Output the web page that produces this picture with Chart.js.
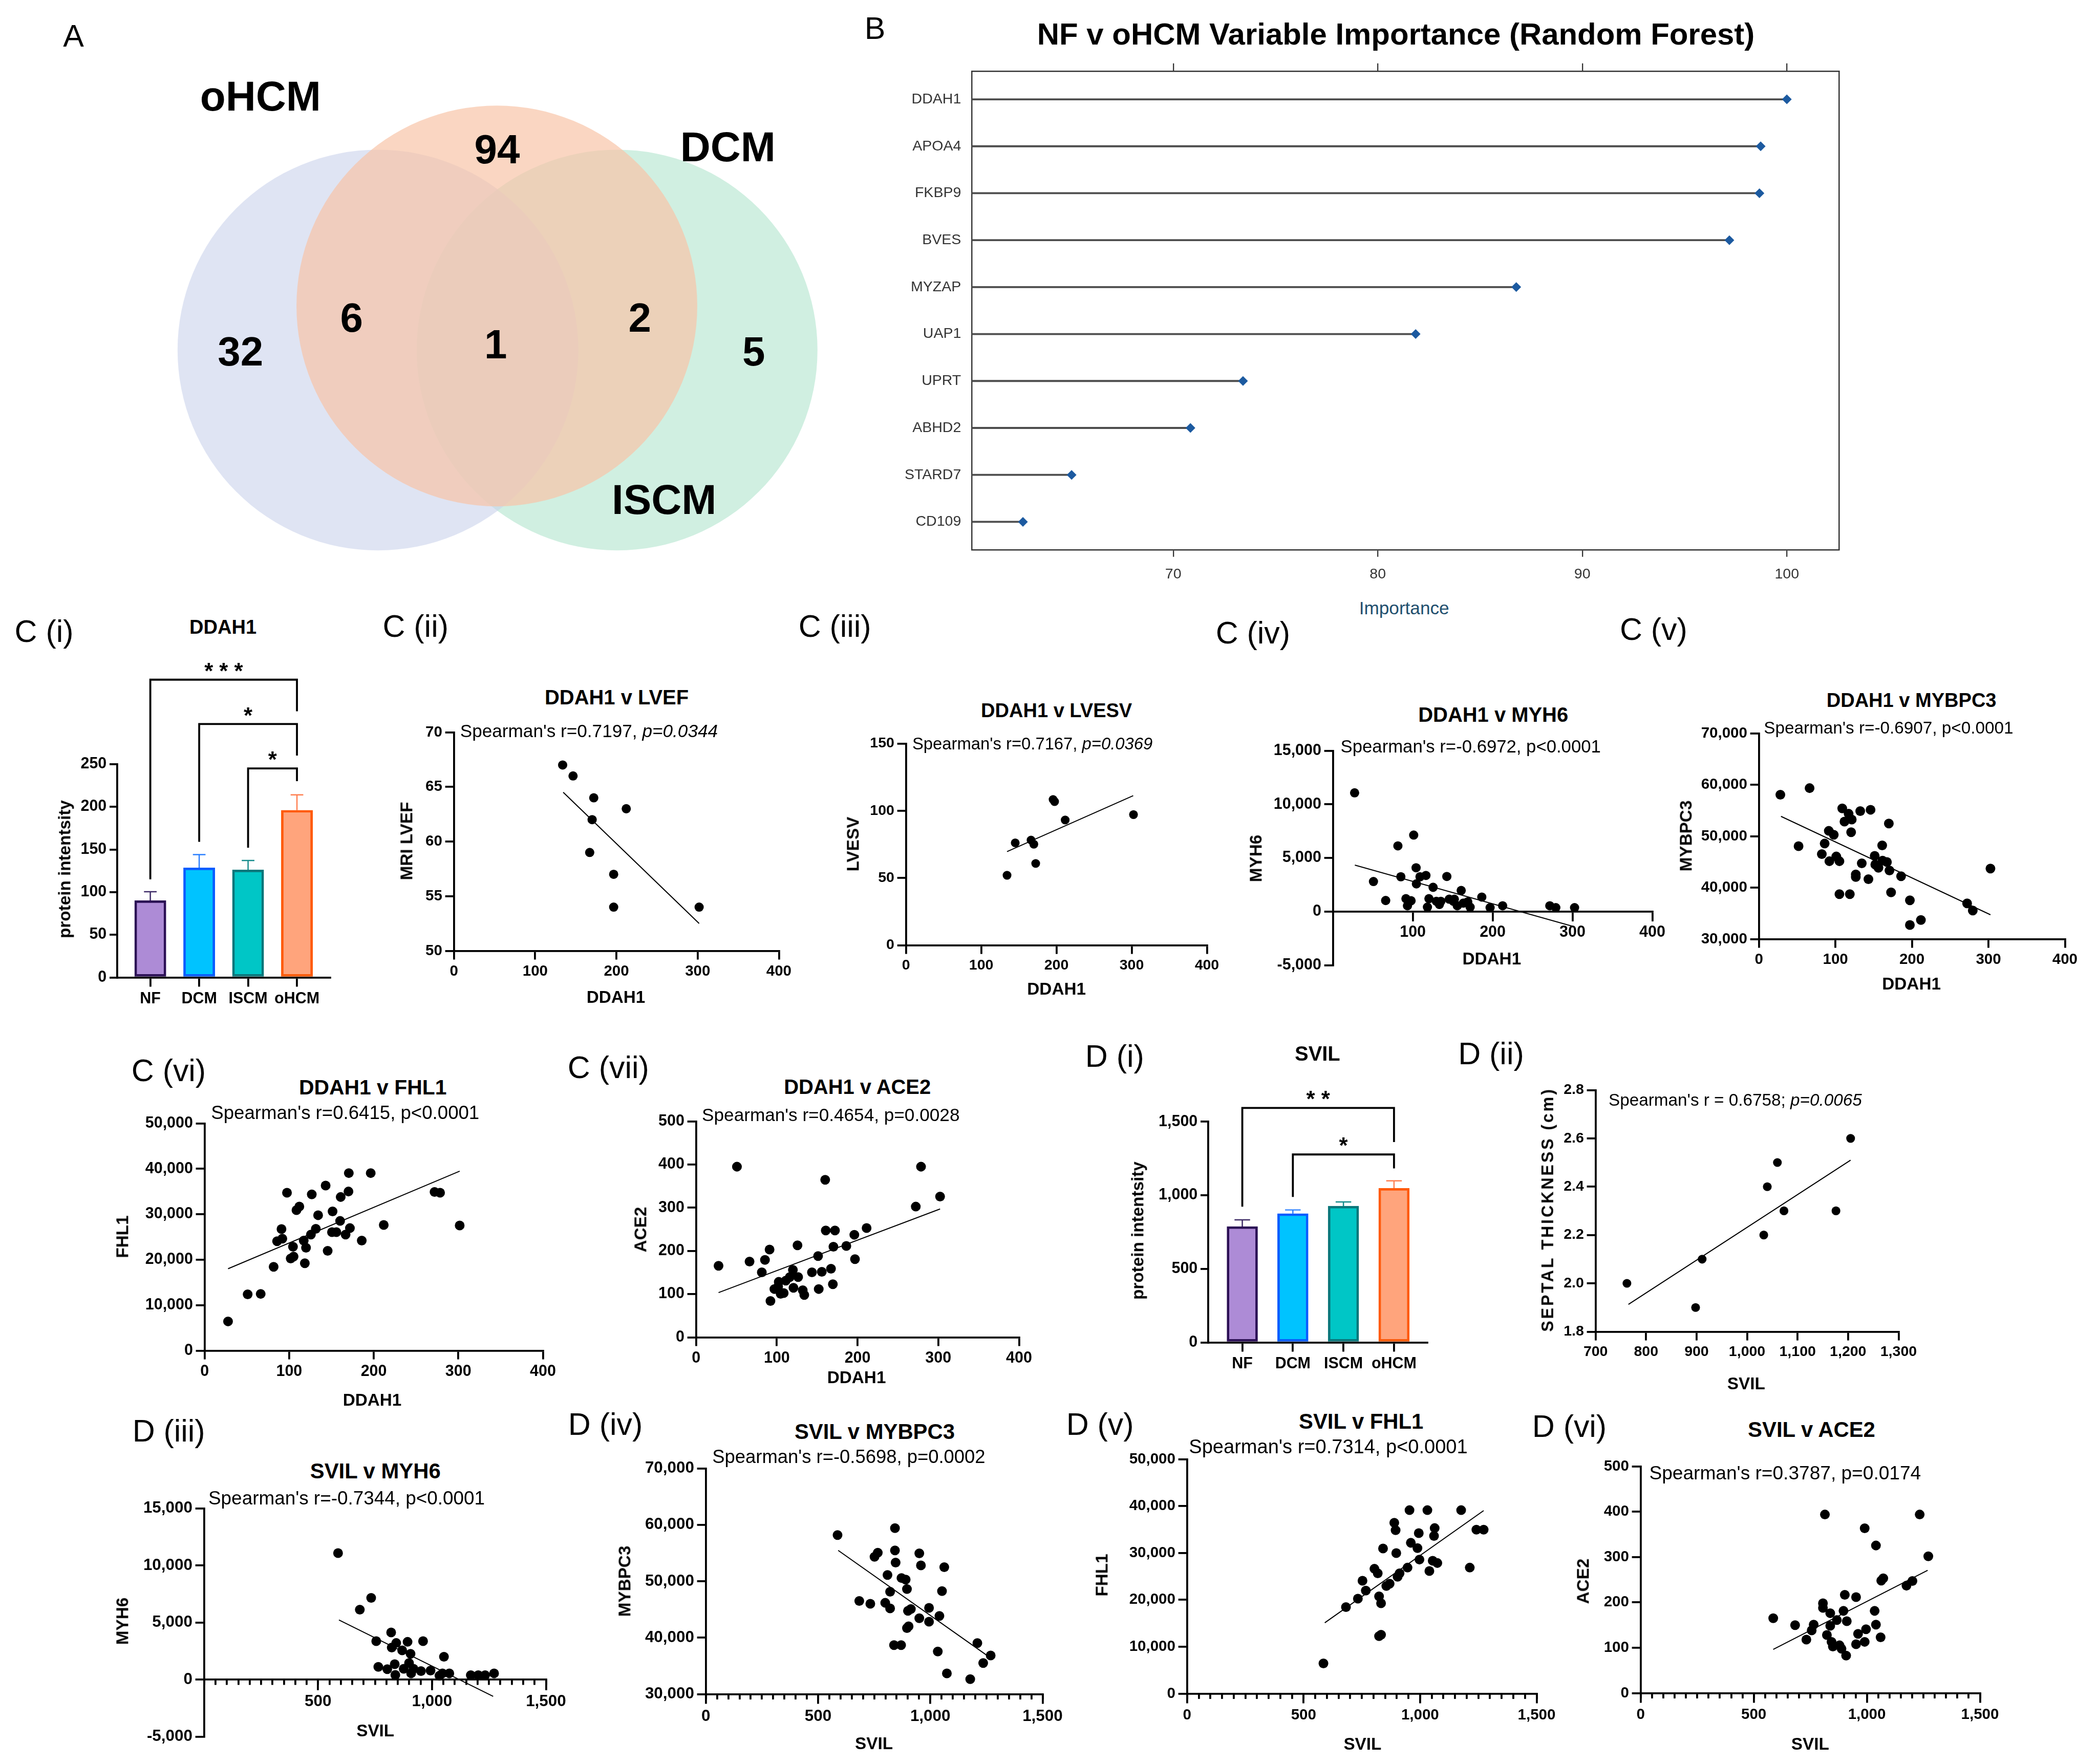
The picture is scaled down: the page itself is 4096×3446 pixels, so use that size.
<!DOCTYPE html>
<html>
<head>
<meta charset="utf-8">
<title>DDAH1 / SVIL proteomics figure</title>
<script src="https://cdn.jsdelivr.net/npm/chart.js@4"></script>
<style>
  html, body { margin: 0; padding: 0; background: #fff; }
  body { width: 4096px; height: 3446px; position: relative; overflow: hidden;
         font-family: 'Liberation Sans', Arial, Helvetica, sans-serif; }
  canvas { position: absolute; }
  .t { position: absolute; white-space: nowrap; line-height: 1; color: #000; }
</style>
</head>
<body>
<script>
// ---------- data ----------
// A: Venn counts (regions: top-only, left-only, left∩top, centre, top∩right, right-only)
const vennCounts = [94, 32, 6, 1, 2, 5];
const vennSetNames = ['oHCM', 'DCM', 'ISCM'];

// B: random forest importance
const rfGenes = ['DDAH1', 'APOA4', 'FKBP9', 'BVES', 'MYZAP', 'UAP1', 'UPRT', 'ABHD2', 'STARD7', 'CD109'];
const rfImportance = [100, 98.72, 98.66, 97.19, 86.77, 81.85, 73.41, 70.84, 65.03, 62.65];
const rfTicks = [70, 80, 90, 100];

// C(i) / D(i): group bars
const groups = ['NF', 'DCM', 'ISCM', 'oHCM'];
const ddah1Mean = [90, 128.5, 126, 196];
const ddah1Sem = [10.5, 15.5, 11, 18];
const ddah1Ticks = [0, 50, 100, 150, 200, 250];
const ddah1Pairs = [[1, 4], [2, 4], [3, 4]];
const ddah1Stars = ['***', '*', '*'];
const ddah1BracketTop = [349, 297, 245];
const ddah1BracketFeet = [[115, 312], [159, 260], [152, 230]];

const svilMean = [787, 875, 926, 1047];
const svilSem = [46, 25, 28, 51];
const svilTicks = [0, 500, 1000, 1500];
const svilPairs = [[1, 4], [2, 4]];
const svilStars = ['**', '*'];
const svilBracketTop = [1593, 1277];
const svilBracketFeet = [[922, 1361], [988, 1182]];

// C(ii) DDAH1 v LVEF
const lvefDDAH1 = [133.8, 146.6, 172.1, 212.1, 170.1, 167.1, 196.6, 196.6, 301.8];
const lvefMRI = [67, 66, 64, 63, 62, 59, 57, 54, 54];
const lvefFitX = [134.5, 301.8];
const lvefFitY = [64.5, 52.5];

// C(iii) DDAH1 v LVESV
const lvesvDDAH1 = [134.3, 145.2, 166.2, 169.9, 172.4, 195.5, 197.5, 211.6, 302.4];
const lvesvValue = [52.0, 76.1, 78.2, 75.1, 60.8, 108.4, 106.8, 93.1, 97.1];
const lvesvFitX = [134.3, 302.0];
const lvesvFitY = [69.6, 111.2];

// C(iv) DDAH1 v MYH6
const myh6DDAH1 = [27.1, 50.7, 66.0, 81.3, 85.0, 91.4, 93.3, 97.8, 101.1, 104.1, 104.5, 109.0, 116.4, 118.3,
  120.2, 125.4, 129.5, 133.3, 135.1, 142.6, 145.6, 150.8, 155.7, 160.6, 163.2, 168.8, 171.8, 186.4, 196.8,
  212.5, 271.6, 279.1, 302.6, 152.0];
const myh6Value = [11070, 2804, 1033, 6125, 3247, 1205, 541, 1009, 7134, 4084, 2583, 3247, 3370, 418,
  1205, 2263, 959, 664, 959, 3272, 1156, 959, 541, 1968, 787, 910, 418, 1353, 369,
  541, 541, 369, 369, 1156];
const myh6FitX = [27.4, 299.6];
const myh6FitY = [4330, -1353];

// C(v) DDAH1 v MYBPC3
const mybpc3DDAH1 = [28.0, 66.2, 51.8, 82.2, 85.9, 91.3, 97.8, 92.1, 101.1, 105.2, 108.9, 111.8, 117.2, 121.3,
  120.5, 105.2, 118.8, 126.6, 126.6, 132.4, 134.4, 143.1, 145.9, 151.3, 152.1, 156.2, 161.1, 161.6, 167.3,
  170.6, 169.8, 172.7, 185.8, 197.3, 197.3, 211.7, 272.1, 279.5, 302.6];
const mybpc3Value = [58051, 59333, 48051, 46513, 48564, 51026, 50256, 45128, 46051, 45128, 55385, 52821, 54359, 53231,
  50769, 38718, 38718, 42564, 42051, 54872, 44718, 41641, 55128, 46154, 44462, 43846, 48205, 45231, 44974,
  43333, 52462, 39077, 42205, 37538, 32718, 33692, 36923, 35538, 43692];
const mybpc3FitX = [28.8, 302.6];
const mybpc3FitY = [53846, 34718];

// C(vi) DDAH1 v FHL1
const fhl1DDAH1 = [27.7, 50.9, 66.3, 81.6, 85.7, 90.9, 91.9, 97.4, 101.8, 105.2, 104.5, 108.6, 112.0, 118.5,
  117.2, 119.9, 125.7, 126.7, 131.5, 134.2, 143.1, 145.5, 151.3, 150.6, 155.8, 160.2, 160.9, 166.7, 170.1,
  171.8, 170.5, 185.8, 196.4, 211.8, 271.9, 278.4, 301.6];
const fhl1Value = [6421, 12368, 12474, 18421, 24053, 26737, 24632, 34737, 20263, 20684, 22842, 30895, 31684, 19211,
  24211, 22632, 25526, 34368, 26789, 29789, 36316, 21947, 30632, 26053, 26053, 28526, 33789, 25526, 35000,
  26947, 39053, 24211, 39053, 27632, 34895, 34737, 27526];
const fhl1FitX = [27.7, 301.6];
const fhl1FitY = [18000, 39474];

// C(vii) DDAH1 v ACE2
const ace2DDAH1 = [27.8, 50.6, 66.2, 81.4, 85.3, 91.0, 92.1, 97.0, 101.6, 104.7, 108.5, 102.4, 111.1, 116.1,
  119.9, 120.6, 125.6, 126.4, 132.1, 134.0, 143.5, 151.1, 151.9, 155.7, 159.9, 160.6, 167.1, 169.4, 172.0,
  170.1, 186.1, 196.0, 196.8, 211.2, 272.1, 278.6, 302.2];
const ace2Value = [165.4, 394.9, 175.3, 150.4, 179.2, 203.0, 84.1, 111.7, 117.3, 100.7, 102.3, 128.3, 131.1, 139.4,
  156.0, 114.5, 212.9, 139.4, 109.0, 97.9, 150.4, 188.1, 111.7, 151.5, 364.5, 247.2, 158.7, 122.8, 247.2,
  209.6, 211.3, 237.3, 180.9, 252.8, 302.5, 394.9, 325.8];
const ace2FitX = [27.8, 302.2];
const ace2FitY = [103.4, 297.0];

// D(ii) SVIL v septal thickness
const septalSVIL = [762, 898, 911, 1033, 1040, 1060, 1073, 1176, 1205];
const septalCm = [2.0, 1.9, 2.1, 2.2, 2.4, 2.5, 2.3, 2.3, 2.6];
const septalFitX = [765, 1205];
const septalFitY = [1.913, 2.51];

// D(iii) SVIL v MYH6
const svMyh6SVIL = [587.7, 683.2, 733.0, 755.2, 764.4, 803.7, 820.7, 823.3, 836.4, 839.0, 842.9, 869.1, 875.7,
  892.7, 899.2, 905.8, 908.4, 918.8, 951.6, 960.7, 993.5, 1032.7, 1052.4, 1045.8, 1075.9, 1170.2, 1202.9,
  1233.0, 1272.3];
const svMyh6Value = [11077, 6123, 7150, 3363, 1108, 906, 4129, 2800, 1349, 403, 3202, 2558, 947,
  3303, 1450, 2256, 544, 947, 745, 3363, 785, 342, 1994, 544, 544, 383, 383, 383, 544];
const svMyh6FitX = [591.6, 1268.3];
const svMyh6FitY = [5216, -1470];

// D(iv) SVIL v MYBPC3
const svMybSVIL = [586.7, 842.5, 751.4, 765.9, 842.5, 845.4, 950.9, 958.1, 1062.1, 809.2, 871.4, 890.2, 895.9,
  820.8, 1052.0, 683.5, 732.7, 799.1, 820.8, 900.3, 913.3, 994.2, 950.9, 994.2, 1040.5, 895.9, 903.2, 838.2,
  869.9, 1033.2, 1073.7, 1177.7, 1209.5, 1235.5, 1268.8];
const svMybValue = [58187, 59409, 54318, 55051, 55458, 53299, 54929, 52811, 52485, 51100, 50570, 50285, 48615,
  48126, 48248, 46497, 46008, 46171, 45193, 44745, 45071, 45275, 43442, 42831, 43849, 41690, 42016, 38676,
  38676, 37536, 33666, 32648, 39043, 35499, 36843];
const svMybFitX = [589.6, 1250];
const svMybFitY = [55458, 36925];

// D(v) SVIL v FHL1
const svFhlSVIL = [585.2, 681.8, 733.0, 752.8, 767.0, 804.0, 818.2, 823.9, 832.4, 832.4, 840.9, 855.1, 869.3,
  889.2, 894.9, 897.7, 903.4, 911.9, 946.0, 954.5, 960.2, 988.6, 994.3, 997.2, 1031.2, 1039.8, 1054.0, 1059.7,
  1062.5, 1073.9, 1176.1, 1213.1, 1241.5, 1272.7, 823.9];
const svFhlValue = [6422, 18431, 20245, 24069, 21961, 26618, 25637, 20735, 12549, 19265, 30931, 22941, 23431,
  36422, 34853, 29951, 24902, 25637, 26863, 39118, 32157, 31029, 34216, 28578, 39118, 26127, 28333, 33627,
  35294, 27843, 39118, 26863, 34951, 34951, 12255];
const svFhlFitX = [590.9, 1272.7];
const svFhlFitY = [15098, 39020];

// D(vi) SVIL v ACE2
const svAceSVIL = [586.0, 682.7, 732.5, 756.0, 764.8, 805.8, 805.8, 814.5, 823.3, 838.0, 838.0, 843.8, 849.7,
  867.3, 879.0, 887.8, 896.6, 902.4, 908.3, 911.2, 952.2, 952.2, 961.0, 990.3, 990.3, 996.2, 1034.3, 1040.1,
  1040.1, 1060.7, 1063.6, 1072.4, 1175.0, 1201.3, 1233.5, 1271.6];
const svAceValue = [165.0, 149.8, 117.9, 138.2, 150.8, 197.9, 187.8, 393.7, 128.0, 176.1, 148.3, 112.9, 102.7,
  160.9, 105.3, 97.7, 181.2, 216.6, 82.5, 158.4, 211.5, 107.8, 130.6, 363.4, 112.9, 140.7, 181.2, 325.4,
  150.8, 123.0, 248.0, 253.0, 236.8, 247.0, 393.7, 301.6];
const svAceFitX = [586, 1268.7];
const svAceFitY = [96.2, 270.7];

// ---------- drawing ----------
const S = 0.951;                 // reference px -> page px
const px = v => v * S;
const FONT = "'Liberation Sans', Arial, Helvetica, sans-serif";
const BLACK = '#000';

// is a narrow sans available for panel B's labels?
const probe = document.createElement('canvas').getContext('2d');
probe.font = "40px 'Liberation Sans Narrow', monospace";
const wNarrow = probe.measureText('DDAH1 Importance').width;
probe.font = '40px monospace';
const hasNarrow = Math.abs(wNarrow - probe.measureText('DDAH1 Importance').width) > 1;
const NARROW = hasNarrow ? "'Liberation Sans Narrow', sans-serif" : FONT;
const narrowSize = hasNarrow ? 36 : 30;

Chart.defaults.font.family = FONT;
Chart.defaults.color = BLACK;
Chart.defaults.animation = false;
Chart.defaults.responsive = false;
Chart.defaults.events = [];
Chart.defaults.plugins.legend.display = false;
Chart.defaults.plugins.tooltip.enabled = false;

function makeCanvas(x, y, w, h) {
  const c = document.createElement('canvas');
  const W = Math.round(px(w)), H = Math.round(px(h));
  c.width = W;
  c.height = H;
  Object.assign(c.style, { left: px(x) + 'px', top: px(y) + 'px', width: W + 'px', height: H + 'px' });
  document.body.appendChild(c);
  return c;
}

function text(html, x, y, size, o = {}) {
  const d = document.createElement('div');
  d.className = 't';
  d.innerHTML = html;
  d.style.left = px(x) + 'px';
  d.style.top = px(y) + 'px';
  d.style.fontSize = px(size) + 'px';
  d.style.fontWeight = o.bold ? 'bold' : 'normal';
  if (o.family) d.style.fontFamily = o.family;
  if (o.color) d.style.color = o.color;
  if (o.ls) d.style.letterSpacing = px(o.ls) + 'px';
  let tf = o.left ? 'translate(0,-50%)' : 'translate(-50%,-50%)';
  if (o.rot) tf += ' rotate(-90deg)';
  d.style.transform = tf;
  document.body.appendChild(d);
}

const tickFont = (size, weight = 'bold', family = FONT) => ({ family, size: px(size), weight });
const fmt = v => v.toLocaleString('en-US');
const setTicks = vals => scale => { scale.ticks = vals.map(v => ({ value: v })); };
const fixW = w => s => { s.width = px(w); s.paddingTop = 0; s.paddingBottom = 0; };
const fixH = h => s => { s.height = px(h); s.paddingLeft = 0; s.paddingRight = 0; };

function scatterPanel(p) {
  const padL = 170, padR = 70, padT = 32, padB = p.zeroAxis ? 32 : 90;
  const canvas = makeCanvas(p.L - padL, p.T - padT, p.R - p.L + padL + padR, p.B - p.T + padT + padB);
  const lw = px(4);
  const xPos = p.zeroAxis ? { y: 0 } : 'bottom';
  const scales = {
    x: {
      type: 'linear', min: p.xMin, max: p.xMax, position: xPos,
      afterBuildTicks: setTicks(p.xTicks), afterFit: fixH(padB),
      ticks: { font: tickFont(p.font), color: BLACK, padding: px(6), maxRotation: 0, autoSkip: false, callback: v => fmt(v) },
      grid: { drawOnChartArea: false, color: BLACK, lineWidth: lw, tickLength: px(p.minor ? 20 : 18) },
      border: { color: BLACK, width: lw }
    },
    y: {
      type: 'linear', min: p.yMin, max: p.yMax, position: 'left',
      afterBuildTicks: setTicks(p.yTicks), afterFit: fixW(padL),
      ticks: { font: tickFont(p.font), color: BLACK, padding: px(6), autoSkip: false, callback: p.yFmt || (v => fmt(v)) },
      grid: { drawOnChartArea: false, color: BLACK, lineWidth: lw, tickLength: px(18) },
      border: { color: BLACK, width: lw }
    }
  };
  if (p.minor) {
    const minorTicks = [];
    for (let v = p.xMin; v <= p.xMax; v += p.minor) minorTicks.push(v);
    scales.xm = {
      type: 'linear', min: p.xMin, max: p.xMax, position: xPos, weight: -1,
      afterBuildTicks: setTicks(minorTicks), afterFit: fixH(0),
      ticks: { display: false },
      grid: { drawOnChartArea: false, color: BLACK, lineWidth: lw, tickLength: px(11) },
      border: { display: false }
    };
  }
  new Chart(canvas, {
    type: 'scatter',
    data: {
      datasets: [
        { xAxisID: 'x', yAxisID: 'y', data: p.xs.map((x, i) => ({ x, y: p.ys[i] })),
          pointRadius: px(p.r || 9.5), backgroundColor: BLACK, borderWidth: 0 },
        { xAxisID: 'x', yAxisID: 'y', data: p.fitX.map((x, i) => ({ x, y: p.fitY[i] })),
          showLine: true, pointRadius: 0, borderColor: BLACK, borderWidth: px(2.2) }
      ]
    },
    options: {
      devicePixelRatio: 1,
      layout: { autoPadding: false, padding: { top: px(padT), right: px(padR), bottom: p.zeroAxis ? px(padB) : 0, left: 0 } },
      scales
    }
  });
}

const barFill = ['#ad8bd6', '#00c3ff', '#00c6c6', '#ffa47c'];
const barEdge = ['#2b0f55', '#0a5cff', '#0b767a', '#ff5a0a'];
const errColour = ['#3c2a66', '#2a7fff', '#168c8c', '#ff7f50'];

function errorBars(mean, sem, cap) {
  return {
    id: 'errorBars',
    beforeDatasetsDraw(chart) {
      const { ctx, scales: { x, y } } = chart;
      ctx.save();
      ctx.lineWidth = px(2.6);
      mean.forEach((m, i) => {
        const cx = x.getPixelForValue(i + 1);
        const y0 = y.getPixelForValue(m), y1 = y.getPixelForValue(m + sem[i]);
        ctx.strokeStyle = errColour[i];
        ctx.beginPath();
        ctx.moveTo(cx, y0); ctx.lineTo(cx, y1);
        ctx.moveTo(cx - px(cap), y1); ctx.lineTo(cx + px(cap), y1);
        ctx.stroke();
      });
      ctx.restore();
    }
  };
}

function brackets(pairs, tops, feet, stars) {
  return {
    id: 'brackets',
    afterDraw(chart) {
      const { ctx, scales: { x, y } } = chart;
      ctx.save();
      ctx.strokeStyle = BLACK;
      ctx.fillStyle = BLACK;
      ctx.lineWidth = px(4);
      ctx.font = `bold ${px(46)}px ${FONT}`;
      ctx.textAlign = 'center';
      ctx.textBaseline = 'alphabetic';
      pairs.forEach(([a, b], i) => {
        const xa = x.getPixelForValue(a), xb = x.getPixelForValue(b);
        const yt = y.getPixelForValue(tops[i]);
        ctx.beginPath();
        ctx.moveTo(xa, y.getPixelForValue(feet[i][0]));
        ctx.lineTo(xa, yt);
        ctx.lineTo(xb, yt);
        ctx.lineTo(xb, y.getPixelForValue(feet[i][1]));
        ctx.stroke();
        ctx.fillText(stars[i].split('').join(' '), (xa + xb) / 2, yt - px(2));
      });
      ctx.restore();
    }
  };
}

function barPanel(p) {
  const padL = 160, padR = 40, padT = p.padT, padB = 90;
  const canvas = makeCanvas(p.L - padL, p.T - padT, p.R - p.L + padL + padR, p.B - p.T + padT + padB);
  const lw = px(4);
  new Chart(canvas, {
    type: 'bar',
    data: {
      datasets: [{
        data: p.mean.map((m, i) => ({ x: i + 1, y: m })),
        backgroundColor: barFill, borderColor: barEdge, borderWidth: px(p.bw),
        borderSkipped: false, barThickness: px(p.barW)
      }]
    },
    options: {
      devicePixelRatio: 1,
      layout: { autoPadding: false, padding: { top: px(padT), right: px(padR), left: 0, bottom: 0 } },
      scales: {
        x: {
          type: 'linear', min: p.xMin, max: p.xMax, offset: false,
          afterBuildTicks: setTicks([1, 2, 3, 4]), afterFit: fixH(padB),
          ticks: { font: tickFont(32), color: BLACK, padding: px(6), maxRotation: 0, autoSkip: false, callback: v => groups[v - 1] },
          grid: { offset: false, drawOnChartArea: false, color: BLACK, lineWidth: lw, tickLength: px(19) },
          border: { color: BLACK, width: lw }
        },
        y: {
          type: 'linear', min: 0, max: p.yTicks[p.yTicks.length - 1],
          afterBuildTicks: setTicks(p.yTicks), afterFit: fixW(padL),
          ticks: { font: tickFont(32), color: BLACK, padding: px(6), callback: v => fmt(v) },
          grid: { drawOnChartArea: false, color: BLACK, lineWidth: lw, tickLength: px(16) },
          border: { color: BLACK, width: lw }
        }
      }
    },
    plugins: [errorBars(p.mean, p.sem, p.cap), brackets(p.pairs, p.tops, p.feet, p.stars)]
  });
}

// ----- A: Venn -----
const vennLayout = {
  centres: [[1020.8, 628.4], [776.6, 719], [1267.7, 719]],
  colours: ['rgba(248,196,168,0.7)', 'rgba(202,210,235,0.6)', 'rgba(208,239,225,1)'],
  r: 411.6
};
new Chart(makeCanvas(340, 190, 1370, 970), {
  type: 'bubble',
  data: {
    datasets: vennLayout.centres.map((c, i) => ({
      data: [{ x: c[0], y: c[1], r: px(vennLayout.r) }],
      backgroundColor: vennLayout.colours[i], borderWidth: 0, clip: false
    }))
  },
  options: {
    devicePixelRatio: 1,
    layout: { autoPadding: false, padding: 0 },
    scales: {
      x: { display: false, min: 340, max: 1710 },
      y: { display: false, min: 190, max: 1160, reverse: true }
    }
  }
});
const vennCountPos = [[1021, 307], [494, 722], [722, 653], [1018, 708], [1314, 653], [1548, 722]];
vennCounts.forEach((n, i) => text(String(n), vennCountPos[i][0], vennCountPos[i][1], 84, { bold: true }));
const vennNamePos = [[535, 198], [1495, 302], [1364, 1026]];
vennSetNames.forEach((n, i) => text(n, vennNamePos[i][0], vennNamePos[i][1], 86, { bold: true }));

// ----- B: variable importance -----
(function () {
  const L = 1996, R = 3778, T = 146, B = 1130;
  const padL = 200, padR = 30, padT = 20, padB = 90;
  const canvas = makeCanvas(L - padL, T - padT, R - L + padL + padR, B - T + padT + padB);
  const frame = { color: '#333', width: px(2.6) };
  const xCommon = { type: 'linear', min: 60.15, max: 102.56, offset: false, afterBuildTicks: setTicks(rfTicks) };
  new Chart(canvas, {
    type: 'bar',
    data: {
      datasets: [
        { type: 'scatter', indexAxis: 'x', xAxisID: 'x', yAxisID: 'y',
          data: rfImportance.map((v, i) => ({ x: v, y: i + 1 })),
          pointStyle: 'rectRot', pointRadius: px(10), backgroundColor: '#1c5aa0', borderWidth: 0 },
        { xAxisID: 'x', yAxisID: 'y',
          data: rfImportance.map((v, i) => ({ x: v, y: i + 1 })),
          backgroundColor: '#4d4d4d', barThickness: px(3.3), borderWidth: 0 }
      ]
    },
    options: {
      devicePixelRatio: 1,
      indexAxis: 'y',
      layout: { autoPadding: false, padding: { top: px(4), right: px(padR), left: 0, bottom: 0 } },
      scales: {
        x: Object.assign({}, xCommon, {
          position: 'bottom', afterFit: fixH(padB),
          ticks: { font: tickFont(narrowSize, 'normal', NARROW), color: '#333', padding: px(18), maxRotation: 0 },
          grid: { offset: false, drawOnChartArea: false, color: '#333', lineWidth: px(2.4), tickLength: px(14) },
          border: frame
        }),
        xt: Object.assign({}, xCommon, {
          position: 'top', afterFit: fixH(16),
          ticks: { display: false },
          grid: { offset: false, drawOnChartArea: false, color: '#333', lineWidth: px(2.4), tickLength: px(16) },
          border: frame
        }),
        y: {
          type: 'linear', min: 0.4, max: 10.6, reverse: true, position: 'left', offset: false,
          afterBuildTicks: setTicks(rfGenes.map((g, i) => i + 1)), afterFit: fixW(padL),
          ticks: { font: tickFont(narrowSize, 'normal', NARROW), color: '#333', padding: px(22), autoSkip: false, callback: v => rfGenes[v - 1] },
          grid: { offset: false, drawOnChartArea: false, drawTicks: false },
          border: frame
        },
        yr: {
          type: 'linear', min: 0.4, max: 10.6, position: 'right', offset: false, afterFit: fixW(0),
          ticks: { display: false }, grid: { offset: false, drawOnChartArea: false, drawTicks: false },
          border: frame
        }
      }
    }
  });
  text('NF v oHCM Variable Importance (Random Forest)', 2867, 70, 63, { bold: true });
  text('Importance', 2884, 1249, 37, { color: '#1f4f6e' });
})();

// ----- C(i) / D(i) bars -----
barPanel({ L: 241, R: 678.6, T: 1569.5, B: 2007.5, padT: 250, xMin: 0.325, xMax: 4.68,
  mean: ddah1Mean, sem: ddah1Sem, yTicks: ddah1Ticks, barW: 64.5, bw: 5, cap: 13,
  pairs: ddah1Pairs, tops: ddah1BracketTop, feet: ddah1BracketFeet, stars: ddah1Stars });
barPanel({ L: 2481.4, R: 2931.7, T: 2303.9, B: 2756.9, padT: 120, xMin: 0.328, xMax: 4.659,
  mean: svilMean, sem: svilSem, yTicks: svilTicks, barW: 63, bw: 5, cap: 16,
  pairs: svilPairs, tops: svilBracketTop, feet: svilBracketFeet, stars: svilStars });

// ----- scatter panels -----
const ddahX = { xMin: 0, xMax: 400, xTicks: [0, 100, 200, 300, 400] };
const svilX = { xMin: 0, xMax: 1500, xTicks: [0, 500, 1000, 1500], minor: 50 };

scatterPanel(Object.assign({ L: 932.8, R: 1600.6, T: 1504.4, B: 1953.3, font: 31,
  yMin: 50, yMax: 70, yTicks: [50, 55, 60, 65, 70],
  xs: lvefDDAH1, ys: lvefMRI, fitX: lvefFitX, fitY: lvefFitY }, ddahX));
scatterPanel(Object.assign({ L: 1861.3, R: 2479.8, T: 1527.7, B: 1942.4, font: 30,
  yMin: 0, yMax: 150, yTicks: [0, 50, 100, 150], r: 9,
  xs: lvesvDDAH1, ys: lvesvValue, fitX: lvesvFitX, fitY: lvesvFitY }, ddahX));
scatterPanel({ L: 2737.5, R: 3393.2, T: 1542.4, B: 1983.1, font: 32, zeroAxis: true,
  xMin: 0, xMax: 400, xTicks: [100, 200, 300, 400],
  yMin: -5000, yMax: 15000, yTicks: [-5000, 0, 5000, 10000, 15000],
  xs: myh6DDAH1, ys: myh6Value, fitX: myh6FitX, fitY: myh6FitY });
scatterPanel(Object.assign({ L: 3613, R: 4241.6, T: 1506, B: 1928.9, font: 31,
  yMin: 30000, yMax: 70000, yTicks: [30000, 40000, 50000, 60000, 70000], r: 10,
  xs: mybpc3DDAH1, ys: mybpc3Value, fitX: mybpc3FitX, fitY: mybpc3FitY }, ddahX));
scatterPanel(Object.assign({ L: 419.9, R: 1114.4, T: 2307, B: 2773.5, font: 32,
  yMin: 0, yMax: 50000, yTicks: [0, 10000, 20000, 30000, 40000, 50000], r: 10,
  xs: fhl1DDAH1, ys: fhl1Value, fitX: fhl1FitX, fitY: fhl1FitY }, ddahX));
scatterPanel(Object.assign({ L: 1429.7, R: 2093.3, T: 2303.5, B: 2747.5, font: 32,
  yMin: 0, yMax: 500, yTicks: [0, 100, 200, 300, 400, 500], r: 10,
  xs: ace2DDAH1, ys: ace2Value, fitX: ace2FitX, fitY: ace2FitY }, ddahX));
scatterPanel({ L: 3277.2, R: 3899.7, T: 2239.1, B: 2735, font: 30,
  xMin: 700, xMax: 1300, xTicks: [700, 800, 900, 1000, 1100, 1200, 1300],
  yMin: 1.8, yMax: 2.8, yTicks: [1.8, 2.0, 2.2, 2.4, 2.6, 2.8], yFmt: v => v.toFixed(1), r: 9,
  xs: septalSVIL, ys: septalCm, fitX: septalFitX, fitY: septalFitY });
scatterPanel({ L: 419, R: 1121.1, T: 3098, B: 3566.6, font: 33, zeroAxis: true,
  xMin: 0, xMax: 1500, xTicks: [500, 1000, 1500], minor: 50,
  yMin: -5000, yMax: 15000, yTicks: [-5000, 0, 5000, 10000, 15000], r: 10,
  xs: svMyh6SVIL, ys: svMyh6Value, fitX: svMyh6FitX, fitY: svMyh6FitY });
scatterPanel(Object.assign({ L: 1449.9, R: 2141.8, T: 3015.9, B: 3479.3, font: 33,
  yMin: 30000, yMax: 70000, yTicks: [30000, 40000, 50000, 60000, 70000], r: 10,
  xs: svMybSVIL, ys: svMybValue, fitX: svMybFitX, fitY: svMybFitY }, svilX));
scatterPanel(Object.assign({ L: 2438, R: 3156.2, T: 2997, B: 3478.4, font: 31,
  yMin: 0, yMax: 50000, yTicks: [0, 10000, 20000, 30000, 40000, 50000], r: 10,
  xs: svFhlSVIL, ys: svFhlValue, fitX: svFhlFitX, fitY: svFhlFitY }, svilX));
scatterPanel(Object.assign({ L: 3369.8, R: 4066.3, T: 3012.1, B: 3478.4, font: 31,
  yMin: 0, yMax: 500, yTicks: [0, 100, 200, 300, 400, 500], r: 10,
  xs: svAceSVIL, ys: svAceValue, fitX: svAceFitX, fitY: svAceFitY }, svilX));

// ----- panel letters -----
text('A', 151, 74, 64);
text('B', 1797, 58, 64);
[['C (i)', 30, 1297], ['C (ii)', 786, 1286], ['C (iii)', 1640, 1286], ['C (iv)', 2497, 1300],
 ['C (v)', 3327, 1292], ['C (vi)', 270, 2199], ['C (vii)', 1166, 2192], ['D (i)', 2229, 2169],
 ['D (ii)', 2995, 2164], ['D (iii)', 272, 2939], ['D (iv)', 1167, 2925], ['D (v)', 2190, 2925],
 ['D (vi)', 3147, 2930]].forEach(([s, x, y]) => text(s, x, y, 64, { left: true }));

// ----- chart titles -----
[['DDAH1', 458, 1288, 40], ['DDAH1 v LVEF', 1266.6, 1433, 42], ['DDAH1 v LVESV', 2170, 1460, 40],
 ['DDAH1 v MYH6', 3067, 1469, 42], ['DDAH1 v MYBPC3', 3926, 1438, 40], ['DDAH1 v FHL1', 765.7, 2233, 43],
 ['DDAH1 v ACE2', 1761, 2233, 42], ['SVIL', 2706, 2165, 42], ['SVIL v MYH6', 771, 3021.6, 44],
 ['SVIL v MYBPC3', 1796.5, 2941, 44], ['SVIL v FHL1', 2795.7, 2920, 44], ['SVIL v ACE2', 3720.8, 2936.6, 44]]
  .forEach(([s, x, y, f]) => text(s, x, y, f, { bold: true }));

// ----- correlation notes -----
[["Spearman's r=0.7197, <i>p=0.0344</i>", 945, 1502, 37],
 ["Spearman's r=0.7167, <i>p=0.0369</i>", 1873.7, 1527.7, 34.5],
 ["Spearman's r=-0.6972, p&lt;0.0001", 2753.5, 1533, 36.5],
 ["Spearman's r=-0.6907, p&lt;0.0001", 3622.7, 1495, 35],
 ["Spearman's r=0.6415, p&lt;0.0001", 433.5, 2286, 38.5],
 ["Spearman's r=0.4654, p=0.0028", 1441.7, 2290, 37],
 ["Spearman's r = 0.6758; <i>p=0.0065</i>", 3304, 2259.5, 35],
 ["Spearman's r=-0.7344, p&lt;0.0001", 428, 3078, 38.8],
 ["Spearman's r=-0.5698, p=0.0002", 1463, 2993, 38.3],
 ["Spearman's r=0.7314, p&lt;0.0001", 2442, 2972, 40],
 ["Spearman's r=0.3787, p=0.0174", 3387.5, 3026.3, 39]]
  .forEach(([s, x, y, f]) => text(s, x, y, f, { left: true }));

// ----- axis titles -----
[['protein intentsity', 133, 1785], ['MRI LVEF', 834.5, 1728], ['LVESV', 1752, 1734], ['MYH6', 2579, 1763.5],
 ['MYBPC3', 3463, 1717.5], ['FHL1', 250.8, 2540], ['ACE2', 1315.4, 2525.5], ['protein intentsity', 2336, 2528],
 ['MYH6', 251.8, 3330.7], ['MYBPC3', 1283, 3248], ['FHL1', 2262.5, 3236], ['ACE2', 3251.5, 3248]]
  .forEach(([s, x, y]) => text(s, x, y, 35, { bold: true, rot: true }));
text('SEPTAL THICKNESS (cm)', 3179, 2485, 34, { bold: true, rot: true, ls: 4 });
[['DDAH1', 1265, 2048], ['DDAH1', 2170, 2032], ['DDAH1', 3064, 1969.5], ['DDAH1', 3926, 2021],
 ['DDAH1', 764.5, 2875.7], ['DDAH1', 1759.3, 2830], ['SVIL', 3586.5, 2842], ['SVIL', 771, 3554.8],
 ['SVIL', 1795, 3582], ['SVIL', 2798.5, 3583], ['SVIL', 3718, 3583]]
  .forEach(([s, x, y]) => text(s, x, y, 35, { bold: true }));
</script>
</body>
</html>
